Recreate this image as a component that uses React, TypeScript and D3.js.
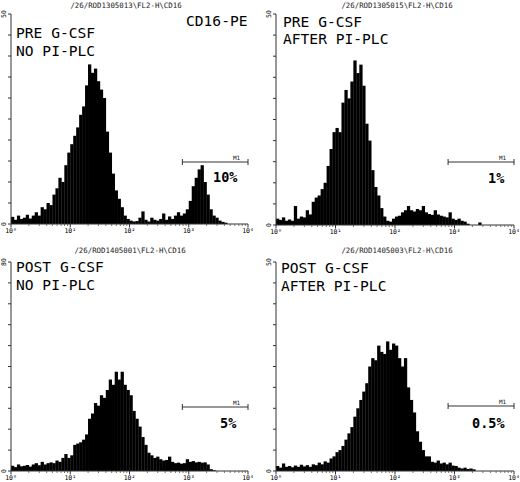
import * as d3 from 'd3'

// channel counts, 20 channels per decade, 10^0 .. 10^4
const preNoPlc = [
  1.7, 1, 2, 1.2, 1.5, 2.2, 1.3, 2, 2.8, 2,
  4, 3.5, 5, 4.5, 7, 8.5, 11, 10, 14, 17,
  19, 21, 23, 26, 28, 33, 38, 36, 37, 34,
  32, 30, 22, 17, 12, 8, 6, 4, 2, 1.2,
  0.8, 0.6, 0.7, 1.5, 3, 1, 0.6, 1.5, 1, 0.8,
  1.2, 2.5, 1, 1.8, 1.2, 2, 2.8, 2, 2.5, 3.5,
  5.5, 9, 11, 13, 14, 10, 7, 3.5, 2, 1.5,
  0.8, 0.5, 0.3, 0, 0, 0, 0, 0, 0, 0,
]
const preAfterPlc = [
  1.5, 1.2, 1.8, 1, 1.3, 1, 4.5, 1.5, 2, 1.8,
  3.5, 2.5, 5.5, 6.5, 7, 8.5, 10, 14, 18, 22,
  23, 22, 29, 32, 30, 34, 39, 36, 38, 33,
  24, 20, 13, 9, 7, 4, 2, 1, 0.8, 1.5,
  2, 2.2, 3, 3.5, 4.5, 3.5, 3.2, 3.8, 3.5, 4.5,
  3, 2.6, 2.4, 3.5, 2.5, 2.2, 2, 1.8, 3, 1.5,
  1.2, 1.5, 1, 0.8, 0.3, 0, 0, 0, 0.6, 0,
  0, 0, 0, 0, 0, 0, 0, 0, 0, 0,
]
const postNoPlc = [
  2, 1.5, 2.5, 1.8, 2, 2.3, 1.7, 2.5, 3, 2.2,
  3.5, 2.5, 3, 3.3, 3, 4, 3.5, 5, 6.5, 5,
  6, 10, 10.5, 11, 12, 14, 20, 22, 26, 25,
  29, 28, 31, 35, 33, 38, 35, 38, 33, 31,
  29, 23, 20, 17, 13, 10, 7, 6, 5, 5.5,
  4.5, 4, 4.2, 5.5, 3.5, 3, 3.2, 2.8, 3, 4.5,
  3.5, 3.8, 3.3, 3.5, 3.2, 3.3, 2.5, 0.7, 0.3, 0,
  0, 0, 0, 0, 0, 0, 0, 0, 0, 0,
]
const postAfterPlc = [
  1.2, 0.8, 1.8, 1, 1.2, 0.9, 1.3, 1, 1.5, 1.1,
  1.4, 1, 1.6, 1.4, 2, 1.6, 2.3, 2, 3, 3.5,
  4.5, 5, 6, 7.5, 9, 10.5, 13, 15, 17, 19,
  21, 25, 27, 26.5, 30, 28.5, 28, 31, 29, 30.5,
  30, 27, 25, 27, 20, 17, 14, 9.5, 7, 5,
  3.5, 3.5, 2.2, 2, 2.5, 1.8, 2, 1.6, 2, 1.3,
  1.2, 0.8, 0.6, 0.8, 0.5, 0.6, 0.4, 0, 0, 0,
  0, 0, 0, 0, 0, 0, 0, 0, 0, 0,
]

const series = [preNoPlc, preAfterPlc, postNoPlc, postAfterPlc]
const fileNames = [
  '/26/ROD1305013\\FL2-H\\CD16',
  '/26/ROD1305015\\FL2-H\\CD16',
  '/26/ROD1405001\\FL2-H\\CD16',
  '/26/ROD1405003\\FL2-H\\CD16',
]
const conditionLines = [
  ['PRE G-CSF', 'NO PI-PLC'],
  ['PRE G-CSF', 'AFTER PI-PLC'],
  ['POST G-CSF', 'NO PI-PLC'],
  ['POST G-CSF', 'AFTER PI-PLC'],
]
const markerPercents = ['10%', '1%', '5%', '0.5%']
const yMaxima = [50, 50, 80, 50]
const decadeExponents = [0, 1, 2, 3, 4]
const markerRange = [780, 10000]
const channelsPerDecade = 20

// pixel layout of each panel
const layout = [
  { x0: 11, x1: 248, yBase: 224, yTop: 14, headX: 126, headY: 8, lx: 16, ly: [38, 56], markY: 162, pctX: 213, pctY: 182 },
  { x0: 276, x1: 514, yBase: 225, yTop: 14, headX: 397, headY: 8, lx: 283, ly: [27, 44], markY: 162, pctX: 488, pctY: 183 },
  { x0: 11, x1: 248, yBase: 471, yTop: 262, headX: 130, headY: 253, lx: 16, ly: [272, 290], markY: 407, pctX: 220, pctY: 428 },
  { x0: 276, x1: 514, yBase: 471, yTop: 262, headX: 397, headY: 253, lx: 281, ly: [273, 291], markY: 406, pctX: 472, pctY: 428 },
]

const mono = '"DejaVu Sans Mono", monospace'
const supDigits = ['⁰', '¹', '²', '³', '⁴']

function Panel({ idx }: { idx: number }) {
  const L = layout[idx]
  const data = series[idx]
  const x = d3.scaleLog().domain([1, 1e4]).range([L.x0, L.x1])
  const y = d3.scaleLinear().domain([0, yMaxima[idx]]).range([L.yBase, L.yTop])
  const yTicks = d3.range(0, 11).map(k => (yMaxima[idx] * k) / 10)
  const minorTicks: number[] = []
  decadeExponents.slice(0, 4).forEach(e => {
    for (let m = 2; m < 10; m++) minorTicks.push(m * Math.pow(10, e))
  })
  const mx0 = x(markerRange[0])
  const mx1 = x(markerRange[1])
  return (
    <g>
      <text x={L.headX} y={L.headY} fontFamily={mono} fontSize={7.4} textAnchor="middle" fill="#222">
        {fileNames[idx]}
      </text>
      {data.map((v, i) => {
        if (v <= 0) return null
        const a = x(Math.pow(10, i / channelsPerDecade))
        const b = x(Math.pow(10, (i + 1) / channelsPerDecade))
        return <rect key={i} x={a} y={y(v)} width={b - a + 0.3} height={L.yBase - y(v)} fill="#000" />
      })}
      {/* y axis */}
      <line x1={L.x0} x2={L.x0} y1={L.yBase} y2={L.yTop} stroke="#333" strokeWidth={1} />
      {yTicks.map((t, k) => (
        <line key={k} x1={L.x0 - 3} x2={L.x0} y1={y(t)} y2={y(t)} stroke="#333" strokeWidth={1} />
      ))}
      <text transform={`translate(${L.x0 - 5},${L.yTop}) rotate(-90)`} fontFamily={mono} fontSize={6.5} textAnchor="middle">
        {yMaxima[idx]}
      </text>
      <text transform={`translate(${L.x0 - 5},${L.yBase}) rotate(-90)`} fontFamily={mono} fontSize={6.5} textAnchor="middle">
        0
      </text>
      {/* x axis */}
      <line x1={L.x0} x2={L.x1} y1={L.yBase} y2={L.yBase} stroke="#333" strokeWidth={1} />
      {minorTicks.map((t, k) => (
        <line key={k} x1={x(t)} x2={x(t)} y1={L.yBase} y2={L.yBase + 2} stroke="#555" strokeWidth={0.8} />
      ))}
      {decadeExponents.map(e => (
        <g key={e}>
          <line x1={x(Math.pow(10, e))} x2={x(Math.pow(10, e))} y1={L.yBase} y2={L.yBase + 3.5} stroke="#333" strokeWidth={1} />
          <text x={x(Math.pow(10, e))} y={L.yBase + 9} fontFamily={mono} fontSize={6.5} textAnchor="middle">
            {'10' + supDigits[e]}
          </text>
        </g>
      ))}
      {/* M1 marker */}
      <line x1={mx0} x2={mx1} y1={L.markY} y2={L.markY} stroke="#333" strokeWidth={1} />
      <line x1={mx0} x2={mx0} y1={L.markY - 3} y2={L.markY + 3} stroke="#333" strokeWidth={1} />
      <line x1={mx1} x2={mx1} y1={L.markY - 3} y2={L.markY + 3} stroke="#333" strokeWidth={1} />
      <text x={mx1 - 15} y={L.markY - 2} fontFamily={mono} fontSize={6} fill="#222">M1</text>
      <text x={L.pctX} y={L.pctY} fontFamily={mono} fontSize={13.5} fontWeight="bold">
        {markerPercents[idx]}
      </text>
      {/* condition labels */}
      {conditionLines[idx].map((s, k) => (
        <text key={k} x={L.lx} y={L.ly[k]} fontFamily={mono} fontSize={14.6}>{s}</text>
      ))}
    </g>
  )
}

export default function App() {
  return (
    <svg width={520} height={482} style={{ position: 'absolute', left: 0, top: 0, background: '#fff' }}>
      <rect width={520} height={482} fill="#fff" />
      {layout.map((_, i) => <Panel key={i} idx={i} />)}
      <text x={186} y={26} fontFamily={mono} fontSize={14.6}>CD16-PE</text>
    </svg>
  )
}
